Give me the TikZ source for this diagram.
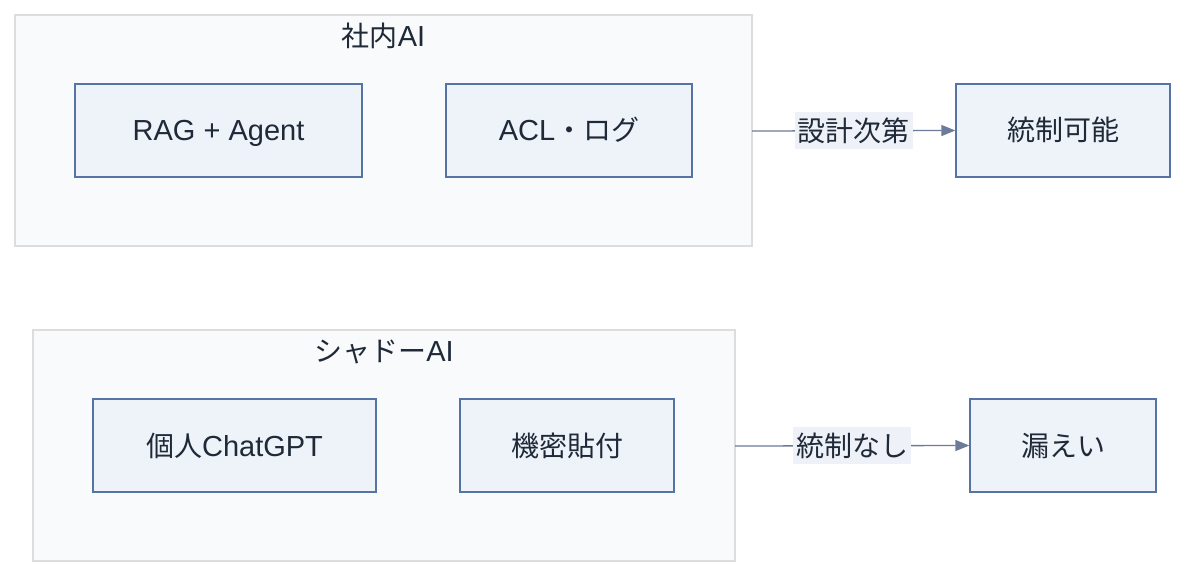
\documentclass[tikz,border=0pt]{standalone}
\usepackage{fontspec}
\setmainfont{Liberation Sans}
\newfontfamily\cjk{Noto Sans CJK JP}
\usetikzlibrary{arrows.meta}
\definecolor{clfill}{HTML}{F8FAFC}
\definecolor{cldraw}{HTML}{DDDDDD}
\definecolor{ndfill}{HTML}{EEF3FA}
\definecolor{nddraw}{HTML}{5573A3}
\definecolor{txt}{HTML}{1F2937}
\definecolor{edge}{HTML}{6B7B99}
\definecolor{lblfill}{HTML}{EEF2F8}
\newcommand{\J}[1]{{\cjk\fontsize{28}{32}\selectfont #1}}
\tikzset{
  cluster/.style={draw=cldraw, fill=clfill, line width=1.2pt},
  box/.style={draw=nddraw, fill=ndfill, line width=1.3pt},
  txtnode/.style={text=txt, font=\fontsize{29}{32}\selectfont, text height=26pt, text depth=5pt},
  boxnode/.style={box, txtnode, inner sep=0pt},
  conn/.style={draw=edge, line width=1.3pt, -{Triangle[length=14pt,width=11pt]}},
  lbl/.style={fill=lblfill, txtnode, inner sep=3pt}
}
\begin{document}
\begin{tikzpicture}[x=1pt,y=-1pt]
\useasboundingbox (0,0) rectangle (1200,583);
% cluster 1
\path[cluster] (15,15) rectangle (752,246);
\coordinate (c1r) at (752,131);
\node[txtnode] (t1) at (383.5,36) {\J{社内}AI};
\path[box] (75,84) rectangle (362,177);
\node[txtnode] (rag) at (218.5,130.5) {RAG + Agent};
\path[box] (446,84) rectangle (692,177);
\node[txtnode] (acl) at (569,130.5) {ACL\J{・ログ}};
\node[boxnode, minimum width=214pt, minimum height=93pt] (ok) at (1063,130.5) {\J{統制可能}};
\draw[conn] (c1r) -- node[lbl] (l1) {\J{設計次第}} (ok.west);
% cluster 2
\path[cluster] (33,330) rectangle (735,561);
\coordinate (c2r) at (735,446);
\node[txtnode] (t2) at (384,351) {\J{シャドー}AI};
\path[box] (93,399) rectangle (376,492);
\node[txtnode] (gpt) at (234.5,445.5) {\J{個人}ChatGPT};
\path[box] (460,399) rectangle (674,492);
\node[txtnode] (paste) at (567,445.5) {\J{機密貼付}};
\node[boxnode, minimum width=186pt, minimum height=93pt] (leak) at (1063,445.5) {\J{漏えい}};
\draw[conn] (c2r) -- node[lbl] (l2) {\J{統制なし}} (leak.west);
\end{tikzpicture}
\end{document}
